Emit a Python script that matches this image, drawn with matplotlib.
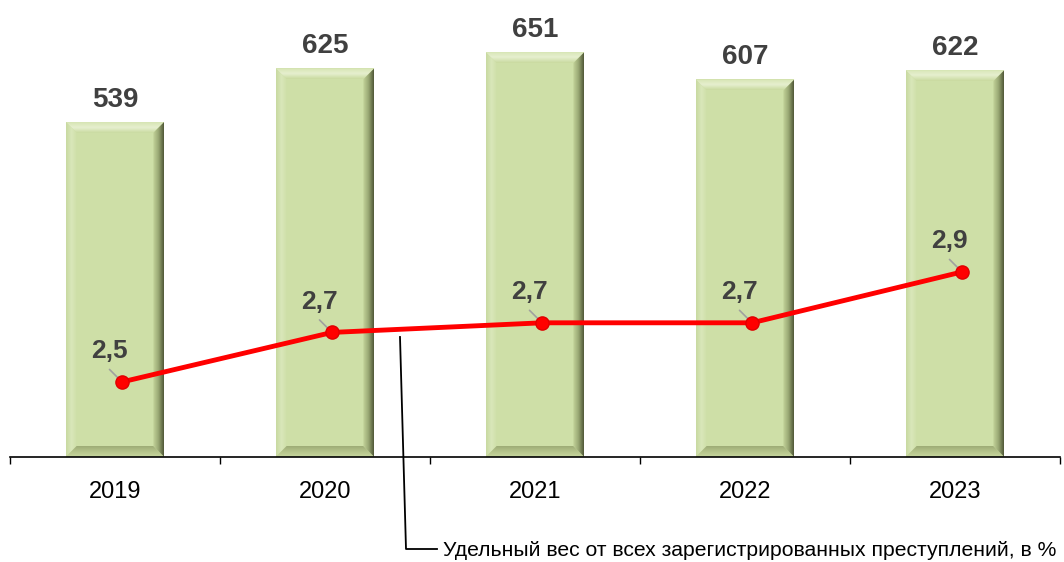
import numpy as np
import matplotlib
matplotlib.use("Agg")
import matplotlib.pyplot as plt
from matplotlib.patches import Polygon
from matplotlib.lines import Line2D
from matplotlib.colors import LinearSegmentedColormap

plt.rcParams['font.family'] = ['Liberation Sans', 'DejaVu Sans']

years = ['2019', '2020', '2021', '2022', '2023']
counts = [539, 625, 651, 607, 622]
share = [2.5, 2.68, 2.715, 2.715, 2.9]
legend_text = 'Удельный вес от всех зарегистрированных преступлений, в %'

W, H = 1064, 562
fig = plt.figure(figsize=(W / 100, H / 100), dpi=100)
ax_l, ax_r, ax_b, ax_t = 10, 1060, 457, 20
ax = fig.add_axes([ax_l / W, 1 - ax_b / H, (ax_r - ax_l) / W, (ax_b - ax_t) / H])
x = np.arange(len(years))
ax.set_xlim(-0.5, len(years) - 0.5)
ax.set_ylim(0, (ax_b - ax_t) / 0.622)

bar_w = 0.47
base = '#cedfa7'
bars = ax.bar(x, counts, width=bar_w, color=base, edgecolor='none', zorder=2)

# pixel -> data conversion
px_x = (len(years)) / (ax_r - ax_l)
px_y = ax.get_ylim()[1] / (ax_b - ax_t)
bev = 11

def grad_poly(poly, colors, direction):
    xs = [p[0] for p in poly]; ys = [p[1] for p in poly]
    cmap = LinearSegmentedColormap.from_list('g', colors)
    if direction == 'v':
        img = np.linspace(1, 0, 64).reshape(-1, 1)  # first color at top
    else:
        img = np.linspace(0, 1, 64).reshape(1, -1)  # first color at left
    pg = Polygon(poly, closed=True, facecolor='none', edgecolor='none', transform=ax.transData)
    ax.add_patch(pg)
    im = ax.imshow(img[::-1] if direction == 'v' else img, cmap=cmap, vmin=0, vmax=1,
                   extent=[min(xs), max(xs), min(ys), max(ys)], origin='lower',
                   aspect='auto', zorder=3, interpolation='bilinear')
    im.set_clip_path(pg)

for b in bars:
    x0 = b.get_x(); x1 = x0 + b.get_width(); y0 = 0; y1 = b.get_height()
    bx = bev * px_x; by = bev * px_y
    # top bevel
    grad_poly([(x0, y1), (x1, y1), (x1 - bx, y1 - by), (x0 + bx, y1 - by)],
              ['#c9da9f', '#e6efcf', '#d6e5b3'], 'v')
    # left bevel
    grad_poly([(x0, y0), (x0, y1), (x0 + bx, y1 - by), (x0 + bx, y0 + by)],
              ['#c8d9a0', '#d9e7ba', '#cfdfa8'], 'h')
    # bottom bevel
    grad_poly([(x0, y0), (x1, y0), (x1 - bx, y0 + by), (x0 + bx, y0 + by)],
              ['#c7d79e', '#b5c48b', '#9eac76'], 'v')
    # right bevel
    grad_poly([(x1, y0), (x1, y1), (x1 - bx, y1 - by), (x1 - bx, y0 + by)],
              ['#c4d49b', '#9aa874', '#505838'], 'h')
    ax.annotate(f'{int(y1)}', (b.get_x() + b.get_width() / 2, y1), xytext=(0, 16),
                textcoords='offset points', ha='center', va='center', fontsize=20,
                fontweight='bold', color='#404040', zorder=6)

ax.set_xticks(x)
ax.set_xticklabels(years, fontsize=17)
ax.set_xticks(np.arange(len(years) + 1) - 0.5, minor=True)
ax.tick_params(axis='x', which='major', length=0, pad=17)
ax.tick_params(axis='x', which='minor', length=5, width=1, direction='out')
ax.set_yticks([])
for s in ['top', 'right', 'left']:
    ax.spines[s].set_visible(False)
ax.spines['bottom'].set_linewidth(1.2)
ax.spines['bottom'].set_zorder(5)
ax.patch.set_alpha(0)

ax2 = ax.twinx()
ax2.set_ylim(2.227, 2.227 + (ax_b - ax_t) / 275.0)
ax2.axis('off')
xl = x + 7 * px_x
ax2.plot(xl, share, color='#ff0000', lw=3.5, zorder=5, solid_capstyle='round')
ax2.plot(xl, share, 'o', ms=9.5, color='#ff0000', mec='#e00000', zorder=6)
for xi, v in zip(xl, share):
    ax2.annotate('', xy=(xi, v), xytext=(-9, 9), textcoords='offset points',
                 arrowprops=dict(arrowstyle='-', color='#a0a0a0', lw=1.2, shrinkA=0, shrinkB=0), zorder=4)
    ax2.annotate(f'{v:.1f}'.replace('.', ','), (xi, v), xytext=(-9, 22), textcoords='offset points',
                 ha='center', va='center', fontsize=19, fontweight='bold', color='#404040', zorder=6)

# leader line to series name
pts = [(400, 337), (406, 549), (437, 549)]
fig.add_artist(Line2D([p[0] / W for p in pts], [1 - p[1] / H for p in pts], color='black', lw=1.3))
fig.text(443 / W, 1 - 550 / H, legend_text, ha='left', va='center', fontsize=15.2, color='black')

fig.savefig('out.png', dpi=100)
